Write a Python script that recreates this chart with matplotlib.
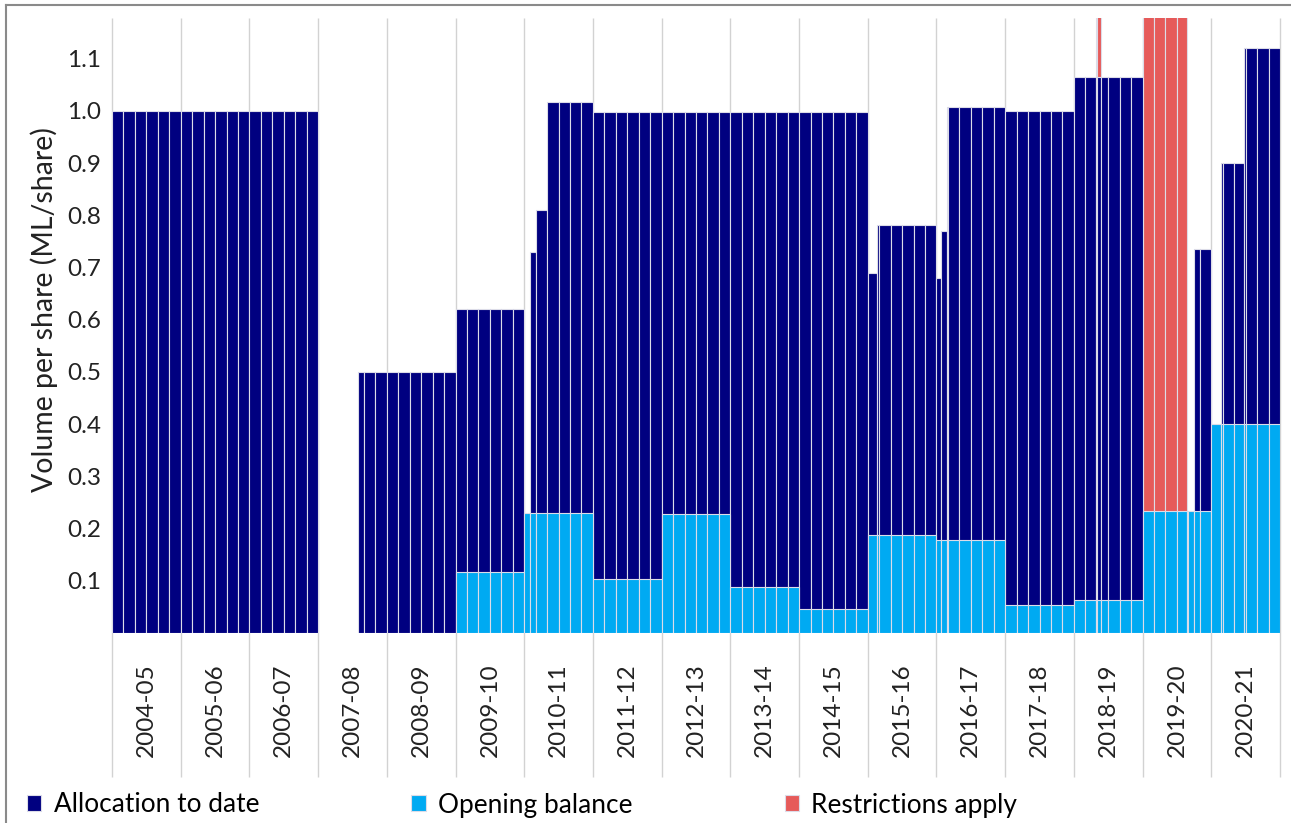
import matplotlib
matplotlib.use("Agg")
import matplotlib.pyplot as plt
import numpy as np
from matplotlib.lines import Line2D

plt.rcParams['font.family'] = ['Lato', 'DejaVu Sans']

# Water years on the category axis
years = ['2004-05', '2005-06', '2006-07', '2007-08', '2008-09', '2009-10',
         '2010-11', '2011-12', '2012-13', '2013-14', '2014-15', '2015-16',
         '2016-17', '2017-18', '2018-19', '2019-20', '2020-21']

# Allocation to date (ML/share), step changes in months since 1 July 2004
alloc_start = [0, 36, 43, 60, 72, 73, 74, 76, 84, 132, 133.6, 144, 144.8,
               145.9, 156, 168, 180, 188.9, 192, 193.7, 197.7]
alloc_value = [1.0, 0, 0.50, 0.62, 0, 0.73, 0.81, 1.017, 0.998, 0.69, 0.782,
               0.68, 0.77, 1.008, 1.0, 1.065, 0, 0.735, 0, 0.90, 1.12]

# Opening balance (ML/share), one value per water year
opening_value = [0, 0, 0, 0, 0, 0.117, 0.23, 0.103, 0.228, 0.088, 0.046,
                 0.188, 0.178, 0.054, 0.063, 0.233, 0.40]

# Periods where restrictions apply (months since 1 July 2004)
restrict_start = [171.9, 180]
restrict_end = [172.8, 187.8]

END = 204
YTOP = 1.178

navy = '#000080'
light = '#00aaf2'
red = '#e65a5a'
sep = '#dcdce8'


def step_value(starts, values, t):
    idx = np.searchsorted(starts, t, side='right') - 1
    return values[idx] if idx >= 0 else 0


open_start = [12 * i for i in range(len(years))]
edges = sorted(set(list(range(0, END + 1, 2)) + alloc_start + restrict_start + restrict_end))
edges = np.array([e for e in edges if e <= END])
left = edges[:-1]
width = np.diff(edges)

alloc_h = np.array([step_value(alloc_start, alloc_value, t) for t in left])
open_h = np.array([step_value(open_start, opening_value, t) for t in left])
restr_h = np.zeros(len(left))
for s, e in zip(restrict_start, restrict_end):
    restr_h[(left >= s - 1e-9) & (left < e - 1e-9)] = YTOP + 0.1

fig = plt.figure(figsize=(12.91, 8.23), dpi=100)
ax = fig.add_axes([112 / 1291, 1 - 633 / 823, (1280 - 112) / 1291, 615 / 823])

bw = dict(align='edge', edgecolor=sep, linewidth=0.8)
m = restr_h > 0
b_r = ax.bar(left[m], restr_h[m], width[m], color=red, zorder=2, **bw)
m = alloc_h > 0
b_a = ax.bar(left[m], alloc_h[m], width[m], color=navy, zorder=3, **bw)
m = open_h > 0
b_o = ax.bar(left[m], open_h[m], width[m], color=light, zorder=4, **bw)

# year separators running down through the label area
ax.vlines(open_start + [END], -0.234, 1, transform=ax.get_xaxis_transform(),
          color='#d2d2d2', linewidth=1, clip_on=False, zorder=0)

ax.set_xlim(0, END)
ax.set_ylim(0, YTOP)
ax.set_xticks([12 * i + 6 for i in range(len(years))])
ax.set_xticklabels(years, rotation=90, fontsize=17.5, color='#222222')
ax.tick_params(axis='x', length=0, pad=22)
yt = np.round(np.arange(0.1, 1.11, 0.1), 1)
ax.set_yticks(yt)
ax.set_yticklabels([f'{v:.1f}' for v in yt], fontsize=17.5, color='#222222')
ax.tick_params(axis='y', length=0, pad=8)
for s in ax.spines.values():
    s.set_visible(False)

fig.text(44 / 1291, 1 - 310 / 823, 'Volume per share (ML/share)', rotation=90,
         ha='center', va='center', fontsize=20.5, color='#222222')

fig.legend([b_a, b_o, b_r], ['Allocation to date', 'Opening balance', 'Restrictions apply'],
           loc='center left', bbox_to_anchor=(27 / 1291, 1 - 805 / 823), ncol=3,
           frameon=False, fontsize=18.9, handlelength=0.55, handleheight=0.55,
           handletextpad=0.46, columnspacing=5.8, borderpad=0, borderaxespad=0)

# outer frame of the original chart
fig.add_artist(Line2D([6 / 1291, 6 / 1291], [0, 1 - 5 / 823], color='#8a8a8a', lw=1.5))
fig.add_artist(Line2D([6 / 1291, 1], [1 - 5 / 823, 1 - 5 / 823], color='#8a8a8a', lw=1.5))

fig.savefig('out.png', dpi=100)
